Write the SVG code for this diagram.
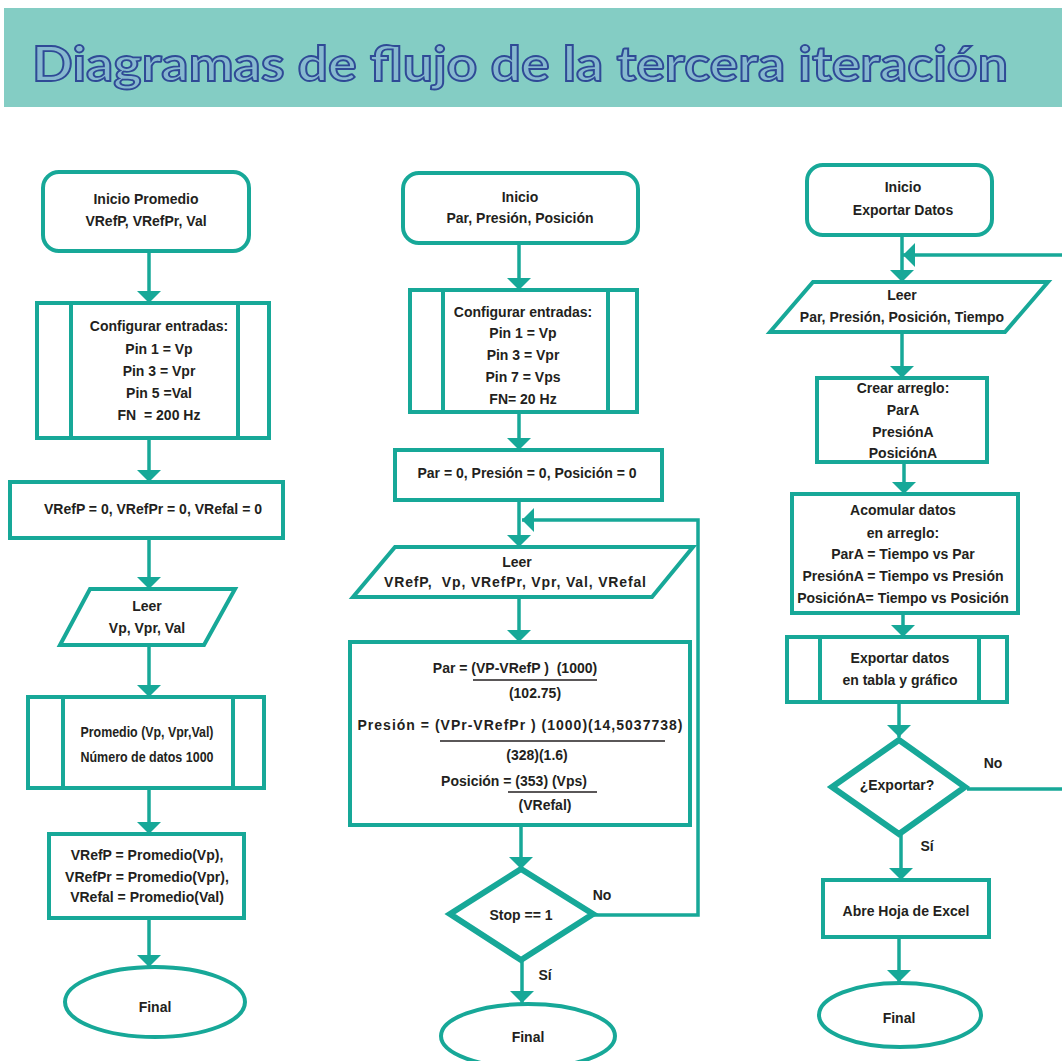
<svg xmlns="http://www.w3.org/2000/svg" width="1062" height="1061" viewBox="0 0 1062 1061">
<defs>
<style>
.s{fill:#fff;stroke:#17a898;stroke-width:4}
.d{fill:#fff;stroke:#17a898;stroke-width:6}
.c{fill:none;stroke:#17a898;stroke-width:3.5}
.t{font-family:"Liberation Sans",Arial,sans-serif;font-weight:bold;font-size:14px;fill:#231f20;text-anchor:middle}
.ttl{font-family:Lato,"Open Sans",sans-serif;font-weight:bold;font-size:48px;fill:#86b9cf;stroke:#2f4a96;stroke-width:1.8;text-anchor:middle}
</style>
<marker id="ah" viewBox="0 0 12 24" markerWidth="12" markerHeight="24" refX="12" refY="12" orient="auto" markerUnits="userSpaceOnUse">
<path d="M0,0 L12,12 L0,24 z" fill="#17a898"/>
</marker>
</defs>
<rect width="1062" height="1061" fill="#fff"/>
<rect x="4" y="8" width="1058" height="99" fill="#84cdc4"/>
<text class="ttl" x="520" y="81" textLength="976" lengthAdjust="spacingAndGlyphs">Diagramas de flujo de la tercera iteración</text>

<g id="connectors">
<line class="c" x1="149" y1="251" x2="149" y2="303" marker-end="url(#ah)"/>
<line class="c" x1="149" y1="438" x2="149" y2="482" marker-end="url(#ah)"/>
<line class="c" x1="149" y1="538" x2="149" y2="589" marker-end="url(#ah)"/>
<line class="c" x1="149" y1="645" x2="149" y2="697" marker-end="url(#ah)"/>
<line class="c" x1="149" y1="788" x2="149" y2="834" marker-end="url(#ah)"/>
<line class="c" x1="149" y1="918" x2="149" y2="967" marker-end="url(#ah)"/>

<line class="c" x1="519" y1="243" x2="519" y2="290" marker-end="url(#ah)"/>
<line class="c" x1="519" y1="412" x2="519" y2="450" marker-end="url(#ah)"/>
<line class="c" x1="519" y1="500" x2="519" y2="547" marker-end="url(#ah)"/>
<line class="c" x1="519" y1="597" x2="519" y2="642" marker-end="url(#ah)"/>
<line class="c" x1="521" y1="825" x2="521" y2="869" marker-end="url(#ah)"/>
<line class="c" x1="522" y1="960" x2="522" y2="1003" marker-end="url(#ah)"/>
<path class="c" d="M593,915 H698 V520 H522" marker-end="url(#ah)"/>

<line class="c" x1="902" y1="235" x2="902" y2="282" marker-end="url(#ah)"/>
<line class="c" x1="902" y1="332" x2="902" y2="378" marker-end="url(#ah)"/>
<line class="c" x1="904" y1="462" x2="904" y2="494" marker-end="url(#ah)"/>
<line class="c" x1="903" y1="613" x2="903" y2="637" marker-end="url(#ah)"/>
<line class="c" x1="899" y1="702" x2="899" y2="737" marker-end="url(#ah)"/>
<line class="c" x1="901" y1="834" x2="901" y2="880" marker-end="url(#ah)"/>
<line class="c" x1="899" y1="937" x2="899" y2="982" marker-end="url(#ah)"/>
<path class="c" d="M967,789 H1072 V255 H903" marker-end="url(#ah)"/>

<text class="t" x="602" y="900">No</text>
<text class="t" x="545" y="980">Sí</text>
<text class="t" x="993" y="768">No</text>
<text class="t" x="927" y="851">Sí</text>
</g>

<!-- Left column -->
<g id="l1">
<rect class="s" x="43" y="172" width="206" height="79" rx="16"/>
<text class="t" x="146" y="204">Inicio Promedio</text>
<text class="t" x="146" y="226">VRefP, VRefPr, Val</text>
</g>
<g id="l2">
<rect class="s" x="37" y="303" width="232" height="135"/>
<line class="s" x1="71" y1="303" x2="71" y2="438"/>
<line class="s" x1="238" y1="303" x2="238" y2="438"/>
<text class="t" x="159" y="331">Configurar entradas:</text>
<text class="t" x="159" y="354">Pin 1 = Vp</text>
<text class="t" x="159" y="376">Pin 3 = Vpr</text>
<text class="t" x="159" y="398">Pin 5 =Val</text>
<text class="t" x="159" y="420" xml:space="preserve">FN  = 200 Hz</text>
</g>
<g id="l3">
<rect class="s" x="10" y="482" width="273" height="56"/>
<text class="t" x="153" y="514">VRefP = 0, VRefPr = 0, VRefal = 0</text>
</g>
<g id="l4">
<polygon class="s" points="90,589 235,589 204,645 60,645"/>
<text class="t" x="147" y="611">Leer</text>
<text class="t" x="147" y="633">Vp, Vpr, Val</text>
</g>
<g id="l5">
<rect class="s" x="28" y="697" width="236" height="91"/>
<line class="s" x1="63" y1="697" x2="63" y2="788"/>
<line class="s" x1="233" y1="697" x2="233" y2="788"/>
<text class="t" x="147" y="737" font-size="13.5" textLength="133" lengthAdjust="spacingAndGlyphs">Promedio (Vp, Vpr,Val)</text>
<text class="t" x="147" y="762" font-size="13.5" textLength="133" lengthAdjust="spacingAndGlyphs">Número de datos 1000</text>
</g>
<g id="l6">
<rect class="s" x="49" y="834" width="195" height="84"/>
<text class="t" x="147" y="860">VRefP = Promedio(Vp),</text>
<text class="t" x="147" y="882">VRefPr = Promedio(Vpr),</text>
<text class="t" x="147" y="902">VRefal = Promedio(Val)</text>
</g>
<g id="l7">
<ellipse class="s" cx="155" cy="1002" rx="90" ry="35"/>
<text class="t" x="155" y="1012">Final</text>
</g>

<!-- Middle column -->
<g id="m1">
<rect class="s" x="403" y="173" width="235" height="70" rx="16"/>
<text class="t" x="520" y="202">Inicio</text>
<text class="t" x="520" y="223">Par, Presión, Posición</text>
</g>
<g id="m2">
<rect class="s" x="410" y="290" width="227" height="122"/>
<line class="s" x1="443" y1="290" x2="443" y2="412"/>
<line class="s" x1="608" y1="290" x2="608" y2="412"/>
<text class="t" x="523" y="317">Configurar entradas:</text>
<text class="t" x="523" y="338">Pin 1 = Vp</text>
<text class="t" x="523" y="360">Pin 3 = Vpr</text>
<text class="t" x="523" y="382">Pin 7 = Vps</text>
<text class="t" x="523" y="404">FN= 20 Hz</text>
</g>
<g id="m3">
<rect class="s" x="395" y="450" width="267" height="50"/>
<text class="t" x="527" y="478">Par = 0, Presión = 0, Posición = 0</text>
</g>
<g id="m4">
<polygon class="s" points="395,547 693,547 652,597 353,597"/>
<text class="t" x="517" y="567">Leer</text>
<text class="t" x="515" y="587" xml:space="preserve" textLength="262" lengthAdjust="spacing">VRefP,  Vp, VRefPr, Vpr, Val, VRefal</text>
</g>
<g id="m5">
<rect class="s" x="350" y="642" width="340" height="183"/>
<text class="t" x="515" y="673" xml:space="preserve">Par = (VP-VRefP )  (1000)</text>
<line x1="473" y1="680" x2="597" y2="680" stroke="#231f20" stroke-width="1.3"/>
<text class="t" x="535" y="698" font-size="13">(102.75)</text>
<text class="t" x="520" y="730" textLength="325" lengthAdjust="spacing">Presión = (VPr-VRefPr ) (1000)(14,5037738)</text>
<line x1="440" y1="741" x2="665" y2="741" stroke="#231f20" stroke-width="1.3"/>
<text class="t" x="537" y="760" font-size="13">(328)(1.6)</text>
<text class="t" x="514" y="786">Posición = (353) (Vps)</text>
<line x1="508" y1="792" x2="597" y2="792" stroke="#231f20" stroke-width="1.3"/>
<text class="t" x="545" y="810" font-size="13">(VRefal)</text>
</g>
<g id="m6">
<polygon class="d" points="521,869 593,914 521,960 450,914"/>
<text class="t" x="521" y="920">Stop == 1</text>
</g>
<g id="m7">
<ellipse class="s" cx="528" cy="1036" rx="87" ry="32"/>
<text class="t" x="528" y="1042">Final</text>
</g>

<!-- Right column -->
<g id="r1">
<rect class="s" x="807" y="165" width="185" height="70" rx="16"/>
<text class="t" x="903" y="192">Inicio</text>
<text class="t" x="903" y="215">Exportar Datos</text>
</g>
<g id="r2">
<polygon class="s" points="813,282 1048,282 1005,332 770,332"/>
<text class="t" x="902" y="300">Leer</text>
<text class="t" x="902" y="322">Par, Presión, Posición, Tiempo</text>
</g>
<g id="r3">
<rect class="s" x="817" y="378" width="170" height="84"/>
<text class="t" x="903" y="393">Crear arreglo:</text>
<text class="t" x="903" y="415">ParA</text>
<text class="t" x="903" y="437">PresiónA</text>
<text class="t" x="903" y="458">PosiciónA</text>
</g>
<g id="r4">
<rect class="s" x="792" y="494" width="226" height="119"/>
<text class="t" x="903" y="515">Acomular datos</text>
<text class="t" x="903" y="538">en arreglo:</text>
<text class="t" x="903" y="559">ParA = Tiempo vs Par</text>
<text class="t" x="903" y="581">PresiónA = Tiempo vs Presión</text>
<text class="t" x="903" y="603">PosiciónA= Tiempo vs Posición</text>
</g>
<g id="r5">
<rect class="s" x="787" y="637" width="220" height="65"/>
<line class="s" x1="820" y1="637" x2="820" y2="702"/>
<line class="s" x1="979" y1="637" x2="979" y2="702"/>
<text class="t" x="900" y="663">Exportar datos</text>
<text class="t" x="900" y="685">en tabla y gráfico</text>
</g>
<g id="r6">
<polygon class="d" points="899,740 965,787 899,834 832,787"/>
<text class="t" x="897" y="790">¿Exportar?</text>
</g>
<g id="r7">
<rect class="s" x="823" y="880" width="166" height="57"/>
<text class="t" x="906" y="916" font-size="12.5">Abre Hoja de Excel</text>
</g>
<g id="r8">
<ellipse class="s" cx="900" cy="1015" rx="81" ry="32"/>
<text class="t" x="899" y="1023">Final</text>
</g>
</svg>
